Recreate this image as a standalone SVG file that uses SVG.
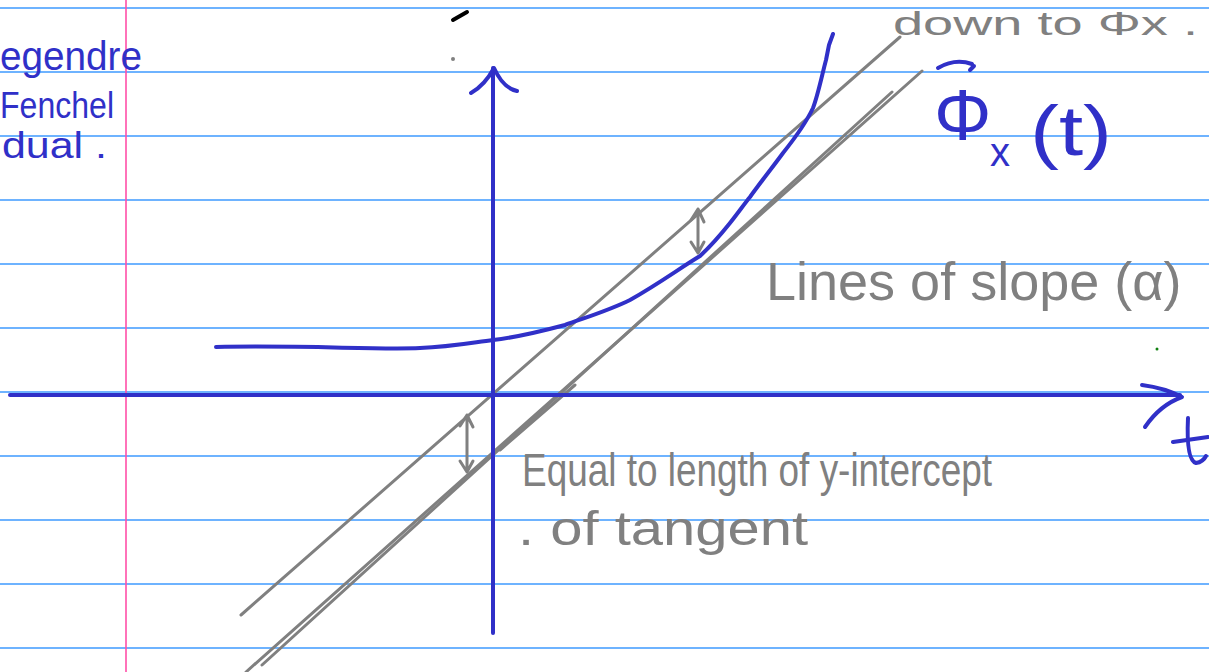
<svg xmlns="http://www.w3.org/2000/svg" width="1209" height="672" viewBox="0 0 1209 672">
<style>
.rule{stroke:#3f9bff;stroke-width:1.6;fill:none}
.ink{stroke:#3030c8;stroke-width:4;fill:none;stroke-linecap:round;stroke-linejoin:round}
.gray{stroke:#808080;stroke-width:3;fill:none;stroke-linecap:round;stroke-linejoin:round}
.gt{font-family:"Liberation Sans",Arial,sans-serif;fill:#808080}
.bt{font-family:"Liberation Sans",Arial,sans-serif;fill:#3030c8}
</style>
<rect width="1209" height="672" fill="#ffffff"/>
<g id="paper">
<path class="rule" d="M0 8H1209M0 72H1209M0 136H1209M0 200H1209M0 264H1209M0 328H1209M0 392H1209M0 456H1209M0 520H1209M0 584H1209M0 648H1209"/>
<line x1="126" y1="0" x2="126" y2="672" stroke="#ff4fa8" stroke-width="1.6"/>
</g>
<g id="lines">
<path class="gray" d="M241 615L900 37"/>
<path class="gray" d="M246 672L922 71"/>
<path class="gray" d="M262 665L892 92"/>
<path class="gray" d="M500 450L575 385"/>
</g>
<g id="axes">
<path class="ink" d="M493 633V68"/>
<path class="ink" d="M471 93Q485 85 494 68Q503 88 517 91"/>
<path class="ink" d="M10 395H1180"/>
<path class="ink" d="M1142 385Q1165 388 1182 397Q1160 405 1145 427"/>
<path class="ink" d="M1188 418Q1186 460 1196 463Q1203 462 1206 456"/>
<path class="ink" d="M1173 442L1208 437"/>
</g>
<g id="curve">
<path class="ink" d="M216 347C300 345 380 350 420 348C450 347 470 343 493 340C520 337 550 329 565 325C590 316 610 310 630 300C660 283 680 268 700 256C712 245 722 233 730 223C738 213 745 203 750 197C760 183 772 168 783 153C795 138 805 125 813 108C818 95 822 75 826 60L829 45L833 34"/>
</g>
<g id="arrows">
<path class="gray" d="M698 209V253M691 220L698 209L704 222M691 242L698 253L704 242"/>
<path class="gray" d="M467 415V472M460 426L467 415L473 427M460 461L467 472L473 461"/>
</g>
<g id="labels">
<text class="bt" x="0" y="70" font-size="40" textLength="142" lengthAdjust="spacingAndGlyphs">egendre</text>
<text class="bt" x="0" y="118" font-size="36" textLength="114" lengthAdjust="spacingAndGlyphs">Fenchel</text>
<text class="bt" x="2" y="158" font-size="36" textLength="105" lengthAdjust="spacingAndGlyphs">dual .</text>
<text class="gt" x="893" y="35" font-size="34" textLength="305" lengthAdjust="spacingAndGlyphs">down to Φx .</text>
<text class="bt" x="934" y="140" font-size="72">Φ</text>
<path class="ink" d="M938 68Q955 58 972 64M970 70L974 66"/>
<text class="bt" x="990" y="166" font-size="40">x</text>
<text class="bt" x="1030" y="155" font-size="70" textLength="82" lengthAdjust="spacingAndGlyphs">(t)</text>
<text class="gt" x="766" y="300" font-size="54">Lines of slope (α)</text>
<text class="gt" x="522" y="486" font-size="46" textLength="470" lengthAdjust="spacingAndGlyphs">Equal to length of y-intercept</text>
<text class="gt" x="518" y="545" font-size="48" textLength="290" lengthAdjust="spacingAndGlyphs">. of tangent</text>
</g>
<g id="marks">
<path d="M453 20L467 12" stroke="#000" stroke-width="4" stroke-linecap="round"/>
<circle cx="453" cy="59" r="2" fill="#808080"/>
<circle cx="1157" cy="349" r="1.5" fill="#108010"/>
</g>
</svg>
